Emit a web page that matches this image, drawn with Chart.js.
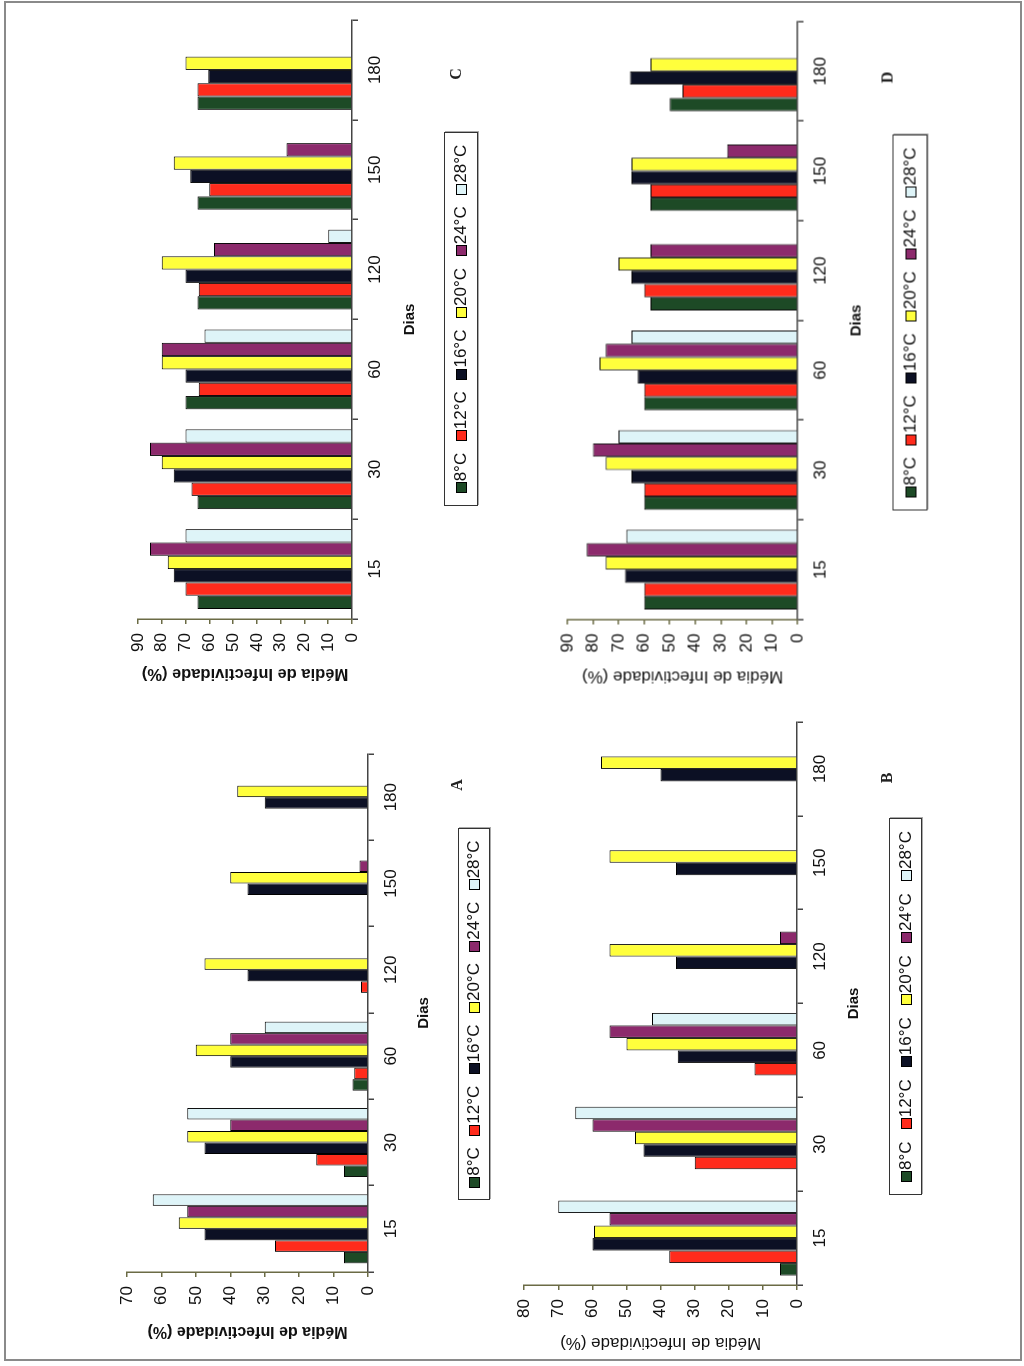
<!DOCTYPE html>
<html>
<head>
<meta charset="utf-8">
<script src="https://cdn.jsdelivr.net/npm/chart.js@4.4.0/dist/chart.umd.min.js"></script>
<style>
  html, body { margin: 0; padding: 0; background: #fff; }
  body { width: 1024px; height: 1366px; position: relative; overflow: hidden; font-family: 'Liberation Sans Narrow', 'Liberation Sans', Arial, sans-serif; }
  .frame { position: absolute; left: 4px; top: 1px; width: 1014px; height: 1356px; border: 2px solid #8a8a8a; }
  .panel { position: absolute; transform: rotate(-90deg); }
  .panel canvas { position: absolute; left: 0; top: 0; }
  .legend { position: absolute; box-sizing: border-box; border: 1px solid #333; box-shadow: 1px 1px 0 #aaa; display: flex; justify-content: space-evenly; align-items: center; font-size: 17px; color: #111; background: #fff; }
  .legend .box { display: inline-block; width: 9px; height: 9px; border: 1px solid #000; margin-right: 1px; vertical-align: -1px; }
  .tag { position: absolute; transform: translate(-50%, -50%); font: bold 16px 'Liberation Serif', serif; color: #222; }
</style>
</head>
<body>
<div class="frame"></div>
<script>
const days = ['15', '30', '60', '120', '150', '180'];
const temps = ['8°C', '12°C', '16°C', '20°C', '24°C', '28°C'];
const colors = ['#1d4a26', '#ff2b1c', '#0c1024', '#ffff3c', '#8c2a6c', '#def4f8'];

// one row per temperature, one column per day
const infectA = [
    [7, 7, 4.5, null, null, null],
    [27, 15, 4, 2, null, null],
    [47.5, 47.5, 40, 35, 35, 30],
    [55, 52.5, 50, 47.5, 40, 38],
    [52.5, 40, 40, null, 2.5, null],
    [62.5, 52.5, 30, null, null, null]
];
const infectB = [
    [5, null, null, null, null, null],
    [37.5, 30, 12.5, null, null, null],
    [60, 45, 35, 35.5, 35.5, 40],
    [59.5, 47.5, 50, 55, 55, 57.5],
    [55, 60, 55, 5, null, null],
    [70, 65, 42.5, null, null, null]
];
const infectC = [
    [65, 65, 70, 65, 65, 65],
    [70, 67.5, 64.5, 64.5, 60, 65],
    [75, 75, 70, 70, 68, 60.5],
    [77.5, 80, 80, 80, 75, 70],
    [85, 85, 80, 58, 27.5, null],
    [70, 70, 62, 10, null, null]
];
const infectD = [
    [60, 60, 60, 57.5, 57.5, 50],
    [60, 60, 60, 60, 57.5, 45],
    [67.5, 65, 62.5, 65, 65, 65.5],
    [75, 75, 77.5, 70, 65, 57.5],
    [82.5, 80, 75, 57.5, 27.5, null],
    [67, 70, 65, null, null, null]
];

const yTitle = 'Média de Infectividade (%)';

// panel geometry, in the unrotated frame (u along the day axis, v down from the top)
const panels = [
    { tag: 'A', data: infectA, max: 70, x0: 100, y0: 735, w: 627, h: 405,
      l: 90, r: 608, t: 27, b: 268, titleU: 31, diasV: 324, titleSize: 16, titleBold: true,
      legend: [162, 534, 358, 390], tagPos: [577, 357] },
    { tag: 'B', data: infectB, max: 80, x0: 505, y0: 700, w: 662, h: 510,
      l: 77, r: 640, t: 17, b: 292, titleU: 19, diasV: 349, titleSize: 17, titleBold: false,
      legend: [167, 544, 384, 417], tagPos: [584, 382] },
    { tag: 'C', data: infectC, max: 90, x0: 100, y0: 5, w: 695, h: 405,
      l: 81, r: 680, t: 38, b: 252, titleU: 26, diasV: 310, titleSize: 16.5, titleBold: true,
      legend: [194, 568, 344, 378], tagPos: [626, 356] },
    { tag: 'D', data: infectD, max: 90, x0: 505, y0: 5, w: 695, h: 510,
      l: 81, r: 679, t: 62, b: 292, titleU: 24, diasV: 351, titleSize: 17, titleBold: false,
      legend: [190, 566, 387, 422], tagPos: [623, 382] }
];

const tickFont = { family: "'Liberation Sans Narrow', 'Liberation Sans', Arial", size: 17 };
const diasFont = { family: "'Liberation Sans', Arial", size: 15, weight: 'bold' };

panels.forEach(p => {
    const div = document.createElement('div');
    div.className = 'panel';
    div.style.width = p.w + 'px';
    div.style.height = p.h + 'px';
    div.style.left = (p.x0 + p.h / 2 - p.w / 2) + 'px';
    div.style.top = (p.y0 + p.w / 2 - p.h / 2) + 'px';
    document.body.appendChild(div);

    const canvas = document.createElement('canvas');
    canvas.width = p.w;
    canvas.height = p.h;
    div.appendChild(canvas);

    const leg = document.createElement('div');
    leg.className = 'legend';
    leg.style.left = p.legend[0] + 'px';
    leg.style.width = (p.legend[1] - p.legend[0]) + 'px';
    leg.style.top = p.legend[2] + 'px';
    leg.style.height = (p.legend[3] - p.legend[2]) + 'px';
    temps.forEach((t, i) => {
        const item = document.createElement('span');
        item.innerHTML = '<span class="box" style="background:' + colors[i] + '"></span>' + t;
        leg.appendChild(item);
    });
    div.appendChild(leg);

    const tag = document.createElement('div');
    tag.className = 'tag';
    tag.textContent = p.tag;
    tag.style.left = p.tagPos[0] + 'px';
    tag.style.top = p.tagPos[1] + 'px';
    div.appendChild(tag);

    const titleFont = { family: "'Liberation Sans', Arial", size: p.titleSize, weight: p.titleBold ? 'bold' : 'normal' };
    const padLeft = p.titleU - p.titleSize * 0.6;
    const xHeight = p.diasV - p.b + 9;

    new Chart(canvas, {
        type: 'bar',
        data: {
            labels: days,
            datasets: temps.map((t, i) => ({
                label: t,
                data: p.data[i],
                backgroundColor: colors[i],
                borderColor: '#000',
                borderWidth: 1,
                barPercentage: 1,
                categoryPercentage: 0.8
            }))
        },
        options: {
            responsive: false,
            animation: false,
            layout: {
                padding: { left: padLeft, right: p.w - p.r, top: p.t, bottom: p.h - p.b - xHeight }
            },
            plugins: {
                legend: { display: false },
                tooltip: { enabled: false }
            },
            scales: {
                x: {
                    ticks: { font: tickFont, color: '#111', padding: 7 },
                    grid: { drawOnChartArea: false, tickLength: 6, color: '#444', lineWidth: 1.5 },
                    border: { color: '#444', width: 1.5 },
                    title: { display: true, text: 'Dias', font: diasFont, color: '#111', padding: 0 },
                    afterFit: s => { s.height = xHeight; }
                },
                y: {
                    min: 0,
                    max: p.max,
                    ticks: { stepSize: 10, font: tickFont, color: '#111', padding: 9 },
                    grid: { drawOnChartArea: false, tickLength: 5, color: '#6b6b45', lineWidth: 1.5 },
                    border: { color: '#6b6b45', width: 1.5 },
                    title: { display: true, text: yTitle, font: titleFont, color: '#111', padding: 0 },
                    afterFit: s => { s.width = p.l - padLeft; }
                }
            }
        }
    });
});
</script>
</body>
</html>
